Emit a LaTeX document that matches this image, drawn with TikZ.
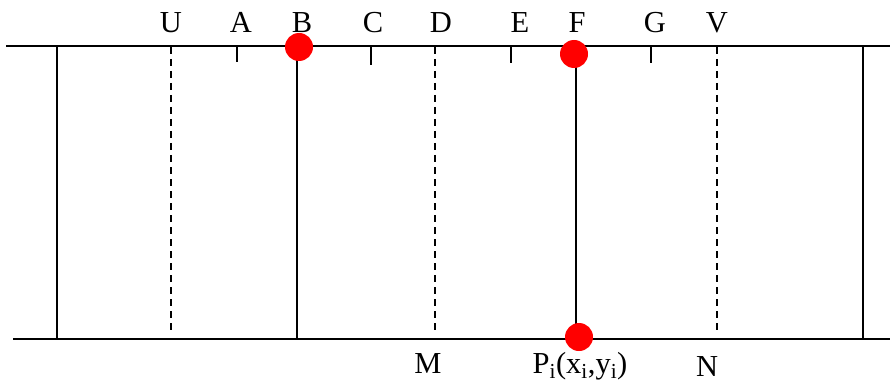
\documentclass[tikz,border=0pt]{standalone}
\usepackage{fontspec}
\setmainfont{Liberation Serif}
\begin{document}
\begin{tikzpicture}[x=1pt,y=-1pt,
  lbl/.style={anchor=base,inner sep=0pt,font=\fontsize{30.5}{32}\selectfont},
  ln/.style={line width=1.9pt,black},
  dsh/.style={line width=1.9pt,black,dash pattern=on 7pt off 5pt},
  dot/.style={circle,fill=red,draw=none,minimum size=28pt,inner sep=0pt}]
\useasboundingbox (0,0) rectangle (890,382);
% main horizontal lines
\coordinate (TL) at (6,46);
\coordinate (TR) at (890,46);
\coordinate (BL) at (13,339);
\coordinate (BR) at (890,339);
\draw[ln] (TL) -- (TR);
\draw[ln] (BL) -- (BR);
% solid verticals
\coordinate (L1) at (57,46); \coordinate (L2) at (57,339);
\coordinate (R1) at (863,46); \coordinate (R2) at (863,339);
\coordinate (Bt) at (297,46); \coordinate (Bb) at (297,339);
\coordinate (Ft) at (576,46); \coordinate (Fb) at (576,339);
\draw[ln] (L1) -- (L2);
\draw[ln] (R1) -- (R2);
\draw[ln] (Bt) -- (Bb);
\draw[ln] (Ft) -- (Fb);
% dashed verticals
\coordinate (Ut) at (171,47); \coordinate (Ub) at (171,334);
\coordinate (Dt) at (435,47); \coordinate (Db) at (435,334);
\coordinate (Vt) at (717,47); \coordinate (Vb) at (717,334);
\draw[dsh] (Ut) -- (Ub);
\draw[dsh] (Dt) -- (Db);
\draw[dsh] (Vt) -- (Vb);
% ticks
\coordinate (At) at (237,46); \coordinate (Ab) at (237,62);
\coordinate (Ct) at (371,46); \coordinate (Cb) at (371,65);
\coordinate (Et) at (511,46); \coordinate (Eb) at (511,63);
\coordinate (Gt) at (651,46); \coordinate (Gb) at (651,63);
\draw[ln] (At) -- (Ab);
\draw[ln] (Ct) -- (Cb);
\draw[ln] (Et) -- (Eb);
\draw[ln] (Gt) -- (Gb);
% red dots
\node[dot] (dB) at (299,47) {};
\node[dot] (dF) at (574,54) {};
\node[dot] (dP) at (579,337) {};
% top labels
\node[lbl] (lU) at (171,33) {U};
\node[lbl] (lA) at (241,33) {A};
\node[lbl] (lB) at (302,33) {B};
\node[lbl] (lC) at (373,33) {C};
\node[lbl] (lD) at (441,33) {D};
\node[lbl] (lE) at (520,33) {E};
\node[lbl] (lF) at (577,33) {F};
\node[lbl] (lG) at (655,33) {G};
\node[lbl] (lV) at (717,33) {V};
% bottom labels
\node[lbl] (lM) at (428,373) {M};
\node[lbl] (lP) at (580,373) {P\textsubscript{i}(x\textsubscript{i},y\textsubscript{i})};
\node[lbl] (lN) at (707,376) {N};
\end{tikzpicture}
\end{document}
